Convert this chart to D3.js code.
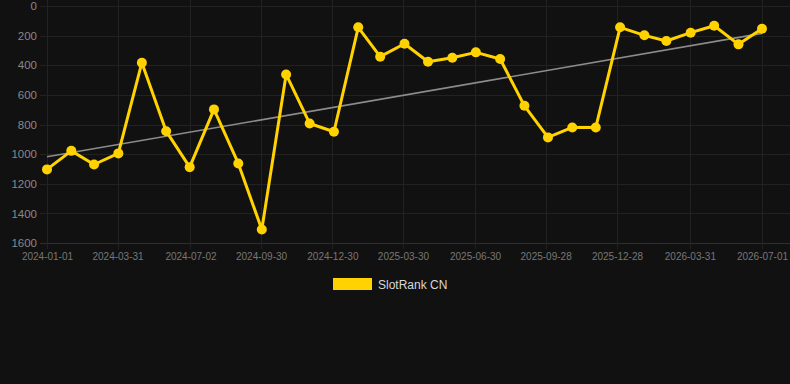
<!DOCTYPE html>
<html>
<head>
<meta charset="utf-8">
<script src="https://cdn.jsdelivr.net/npm/d3@7"></script>
<style>
  body { margin: 0; background: #111111; }
  svg { display: block; font-family: "Liberation Sans", Arial, sans-serif; }
</style>
</head>
<body>
<div id="container"></div>
<script>
let w = 790;
let h = 384;

// monthly rank values, 2024-01 .. 2026-07
let months = ["2024-01-01", "2024-02-01", "2024-03-01", "2024-04-01", "2024-05-01", "2024-06-01",
  "2024-07-01", "2024-08-01", "2024-09-01", "2024-10-01", "2024-11-01", "2024-12-01",
  "2025-01-01", "2025-02-01", "2025-03-01", "2025-04-01", "2025-05-01", "2025-06-01",
  "2025-07-01", "2025-08-01", "2025-09-01", "2025-10-01", "2025-11-01", "2025-12-01",
  "2026-01-01", "2026-02-01", "2026-03-01", "2026-04-01", "2026-05-01", "2026-06-01",
  "2026-07-01"];
let ranks = [1103, 978, 1070, 995, 383, 845, 1088, 698, 1063, 1509, 462, 793,
  849, 144, 342, 255, 376, 349, 313, 358, 674, 887, 820, 820,
  144, 198, 236, 180, 133, 259, 153];
let trendEnds = [1018, 185];
let xTickLabels = ["2024-01-01", "2024-03-31", "2024-07-02", "2024-09-30", "2024-12-30", "2025-03-30",
  "2025-06-30", "2025-09-28", "2025-12-28", "2026-03-31", "2026-07-01"];
let yTicks = [0, 200, 400, 600, 800, 1000, 1200, 1400, 1600];
let seriesName = "SlotRank CN";

let parse = d3.timeParse("%Y-%m-%d");
let data = months.map(function (m, i) { return { date: parse(m), value: ranks[i] }; });

let viz = d3.select("#container")
  .append("svg")
    .attr("width", w)
    .attr("height", h)
    .style("background-color", "#111111")
;

let plotLeft = 47, plotRight = 762, plotTop = 6, plotBottom = 243;

let xScale = d3.scaleTime()
  .domain([parse("2024-01-01"), parse("2026-07-01")])
  .range([plotLeft, plotRight]);

let yScale = d3.scaleLinear().domain([0, 1600]).range([plotTop, plotBottom]);

// grid
let grid = viz.append("g").attr("class", "grid");
grid.selectAll(".hgrid").data(yTicks).enter()
  .append("line")
    .attr("x1", 40)
    .attr("x2", 790)
    .attr("y1", function (d) { return Math.round(yScale(d)) + 0.5; })
    .attr("y2", function (d) { return Math.round(yScale(d)) + 0.5; })
    .attr("stroke", function (d) { return d == 1600 ? "#2e2e2e" : "#222222"; })
    .attr("stroke-width", 1)
;
grid.selectAll(".vgrid").data(xTickLabels).enter()
  .append("line")
    .attr("x1", function (d) { return Math.round(xScale(parse(d))) + 0.5; })
    .attr("x2", function (d) { return Math.round(xScale(parse(d))) + 0.5; })
    .attr("y1", 0)
    .attr("y2", plotBottom + 6)
    .attr("stroke", "#222222")
    .attr("stroke-width", 1)
;

// y axis labels
let yAxisGroup = viz.append("g").attr("class", "yaxis")
  .attr("transform", "translate(" + 37 + ",0)");
let yAxis = d3.axisLeft(yScale).tickValues(yTicks).tickFormat(d3.format("d")).tickSize(0).tickPadding(0);
yAxisGroup.call(yAxis);
yAxisGroup.select(".domain").remove();
yAxisGroup.selectAll("text")
  .attr("fill", "#888888")
  .style("font-size", "11.5px")
  .style("font-family", "'Liberation Sans', Arial, sans-serif");

// x axis labels
let xAxisGroup = viz.append("g").attr("class", "xaxis")
  .attr("transform", "translate(0," + (plotBottom + 10) + ")");
let xAxis = d3.axisBottom(xScale)
  .tickValues(xTickLabels.map(parse))
  .tickFormat(d3.timeFormat("%Y-%m-%d"))
  .tickSize(0)
  .tickPadding(0);
xAxisGroup.call(xAxis);
xAxisGroup.select(".domain").remove();
xAxisGroup.selectAll("text")
  .attr("fill", "#777777")
  .attr("dy", "0.71em")
  .style("font-size", "10px")
  .style("font-family", "'Liberation Sans', Arial, sans-serif");

// trend line
viz.append("line")
  .attr("x1", xScale(parse(months[0])))
  .attr("y1", yScale(trendEnds[0]))
  .attr("x2", xScale(parse(months[months.length - 1])))
  .attr("y2", yScale(trendEnds[1]))
  .attr("stroke", "#8c8c8c")
  .attr("stroke-width", 1.6)
;

// main line
let line = d3.line()
  .x(function (d) { return xScale(d.date); })
  .y(function (d) { return yScale(d.value); });

viz.append("path")
  .datum(data)
  .attr("d", line)
  .attr("fill", "none")
  .attr("stroke", "#ffd200")
  .attr("stroke-width", 3)
  .attr("stroke-linejoin", "round")
;

viz.selectAll(".dot").data(data).enter()
  .append("circle")
    .attr("class", "dot")
    .attr("cx", function (d) { return xScale(d.date); })
    .attr("cy", function (d) { return yScale(d.value); })
    .attr("r", 5)
    .attr("fill", "#ffd200")
;

// legend
let legend = viz.append("g").attr("transform", "translate(333,278)");
legend.append("rect")
  .attr("width", 39)
  .attr("height", 12)
  .attr("fill", "#ffd200");
legend.append("text")
  .attr("x", 45)
  .attr("y", 10.5)
  .attr("fill", "#d8d8d8")
  .style("font-size", "12px")
  .text(seriesName);
</script>
</body>
</html>
